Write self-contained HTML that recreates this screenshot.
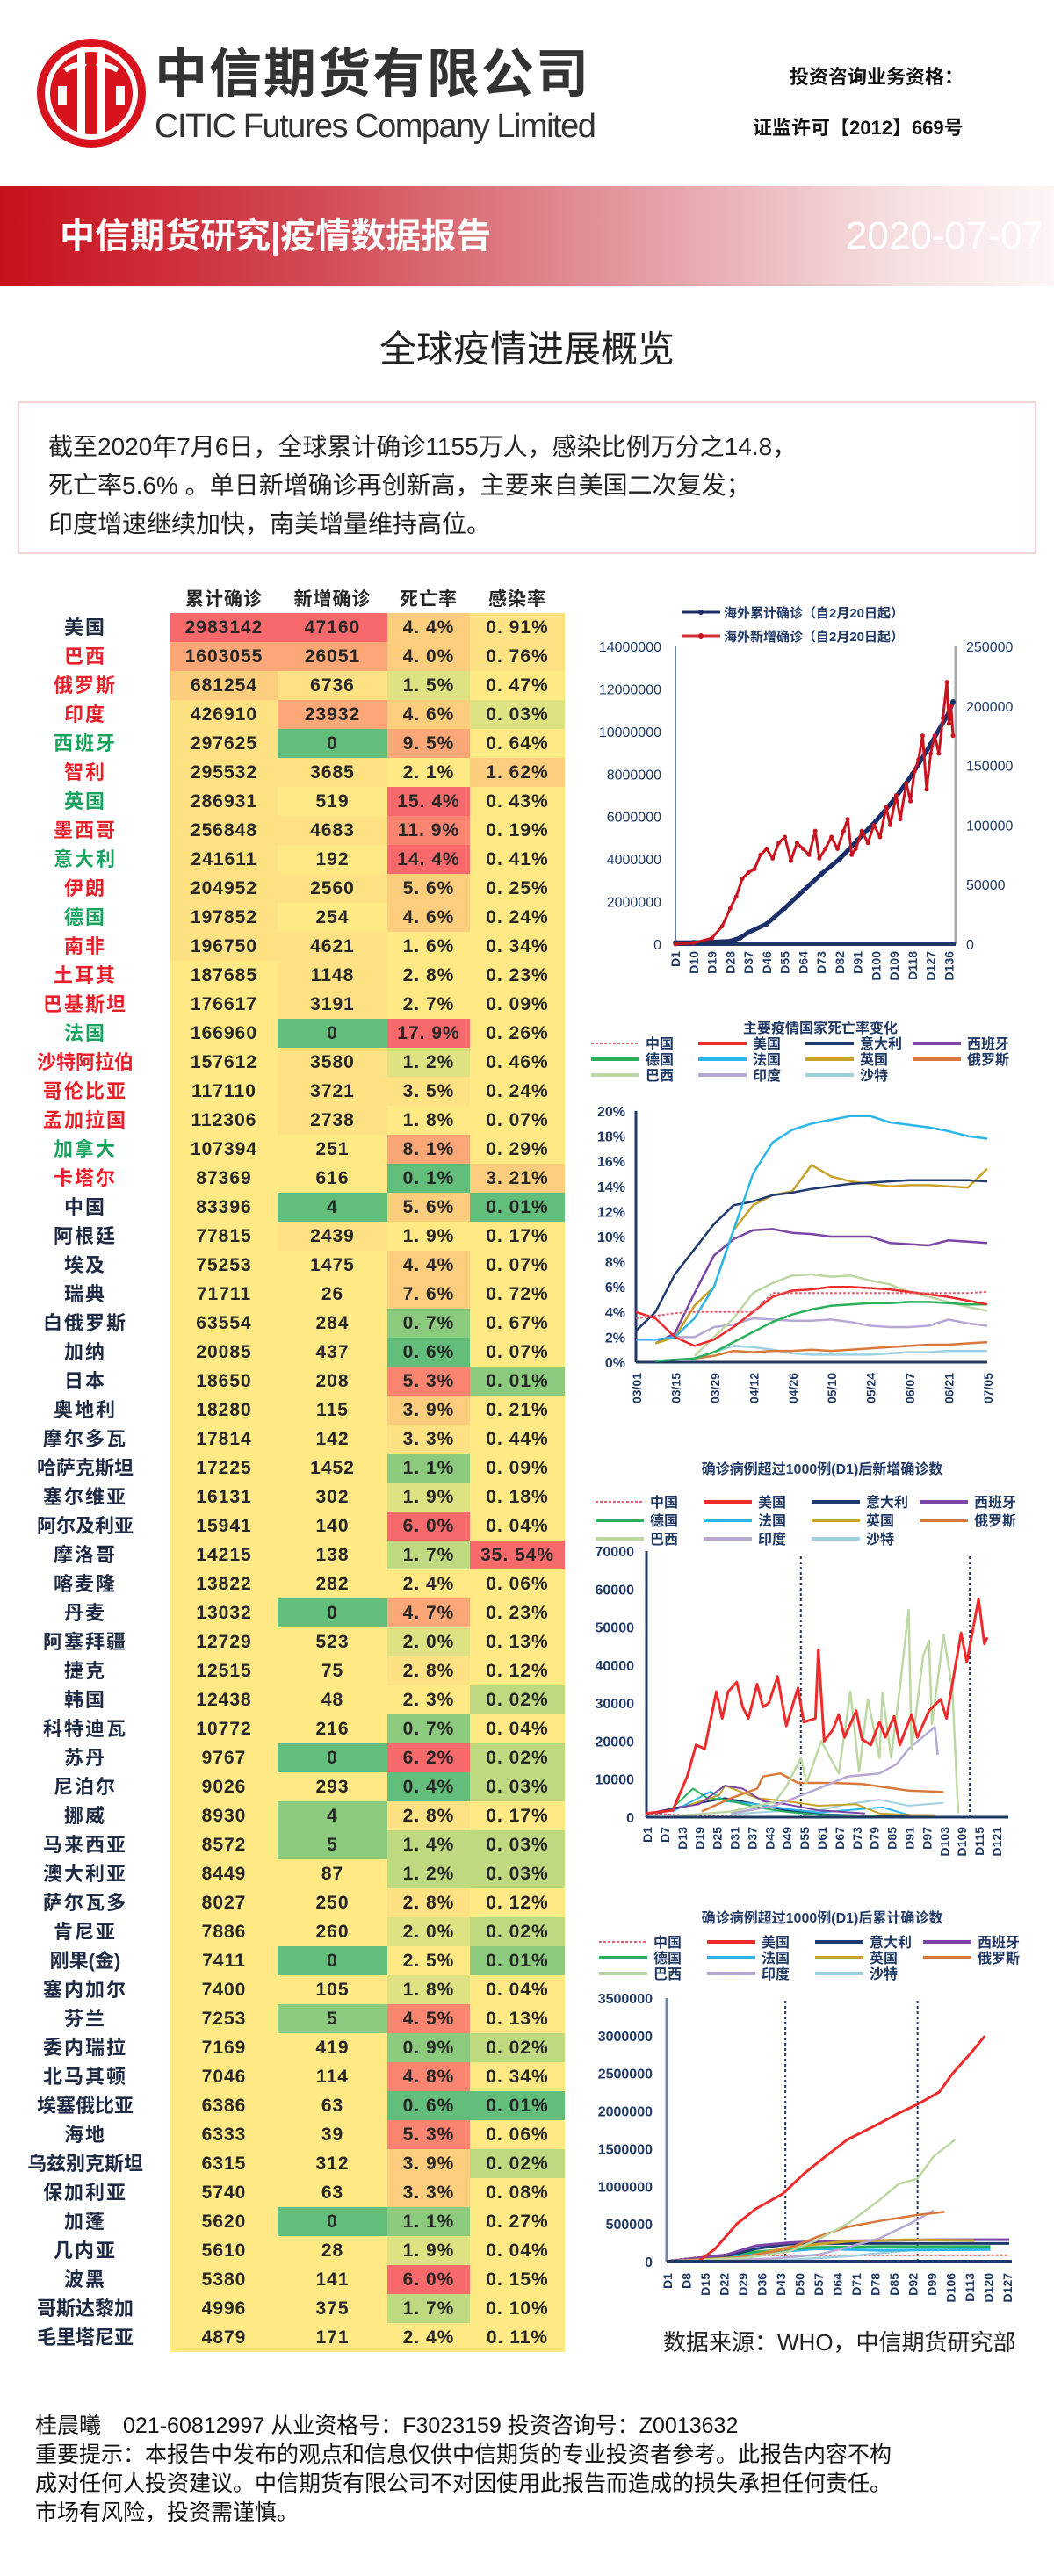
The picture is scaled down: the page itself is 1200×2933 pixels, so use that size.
<!DOCTYPE html>
<html><head><meta charset="utf-8">
<style>
*{margin:0;padding:0;box-sizing:border-box}
body{width:1200px;height:2933px;position:relative;background:#fff;font-family:"Liberation Sans","Noto Sans CJK SC",sans-serif;overflow:hidden}
.abs{position:absolute}
#banner{left:0;top:212px;width:1200px;height:114px;background:linear-gradient(90deg,#c8101c 0%,#d24a54 30%,#e39aa0 60%,#f6dfe1 85%,#fdf6f6 100%)}
#tbl{left:0;top:668px;width:650px}
.row{position:absolute;left:0;height:33px;width:643px}
.nm{position:absolute;left:0;width:194px;text-align:center;font-size:22px;font-weight:bold;line-height:33px;letter-spacing:2px}
.c{position:absolute;top:0;height:33px;line-height:33px;text-align:center;font-size:21px;font-weight:bold;color:#262626;font-family:"Liberation Sans","Noto Sans CJK SC",sans-serif;letter-spacing:1px}
.hd{position:absolute;top:0;height:30px;line-height:30px;text-align:center;font-size:21px;font-weight:bold;color:#262626;letter-spacing:1px}
svg text{font-family:"Liberation Sans","Noto Sans CJK SC",sans-serif}
</style></head>
<body>
<svg class="abs" style="left:38px;top:40px" width="134" height="134">
<circle cx="66" cy="66" r="62" fill="#d7141e"/>
<circle cx="66" cy="66" r="50" fill="none" stroke="#fff" stroke-width="6"/>
<rect x="50" y="20" width="9" height="94" fill="#fff"/><rect x="73" y="20" width="9" height="94" fill="#fff"/>
<path d="M36 40 Q52 30 59 36 M96 40 Q80 30 73 36" stroke="#fff" stroke-width="6" fill="none"/>
<rect x="28" y="58" width="10" height="22" fill="#fff"/><rect x="94" y="58" width="10" height="22" fill="#fff"/>
</svg>
<div class="abs" style="left:176px;top:50px;font-size:60px;font-weight:bold;color:#333;letter-spacing:2px;line-height:70px">中信期货有限公司</div>
<div class="abs" style="left:176px;top:122px;font-size:38px;color:#333;letter-spacing:-1.5px;line-height:44px">CITIC Futures Company Limited</div>
<div class="abs" style="left:899px;top:70px;font-size:22px;font-weight:bold;color:#111">投资咨询业务资格：</div>
<div class="abs" style="left:857px;top:128px;font-size:22px;font-weight:bold;color:#111">证监许可【2012】669号</div>
<div id="banner" class="abs">
<div class="abs" style="left:68px;top:32px;font-size:40px;font-weight:bold;color:#fff;line-height:50px">中信期货研究|疫情数据报告</div>
<div class="abs" style="right:12px;top:30px;font-size:44px;color:#fff;line-height:54px">2020-07-07</div>
</div>
<div class="abs" style="left:0;width:1200px;top:372px;text-align:center;font-size:42px;color:#222;line-height:52px">全球疫情进展概览</div>
<div class="abs" style="left:20px;top:457px;width:1160px;height:174px;border:2px solid #f0d4d4">
<div class="abs" style="left:33px;top:28px;font-size:28px;line-height:44px;color:#222;width:1110px">截至2020年7月6日，全球累计确诊1155万人，感染比例万分之14.8，<br>死亡率5.6% 。单日新增确诊再创新高，主要来自美国二次复发；<br>印度增速继续加快，南美增量维持高位。</div>
</div>

<div id="tbl" class="abs">
<div class="hd" style="left:194px;width:122px">累计确诊</div>
<div class="hd" style="left:316px;width:125px">新增确诊</div>
<div class="hd" style="left:441px;width:94px">死亡率</div>
<div class="hd" style="left:535px;width:108px">感染率</div>
</div>

<svg id="charts" class="abs" style="left:0;top:0" width="1200" height="2933"></svg>

<div class="abs" style="left:755px;top:2650px;font-size:26px;color:#222;line-height:34px">数据来源：WHO，中信期货研究部</div>
<div class="abs" style="left:40px;top:2746px;width:1150px;font-size:25px;color:#111;line-height:33px;white-space:nowrap">桂晨曦　021-60812997 从业资格号：F3023159 投资咨询号：Z0013632<br>重要提示：本报告中发布的观点和信息仅供中信期货的专业投资者参考。此报告内容不构<br>成对任何人投资建议。中信期货有限公司不对因使用此报告而造成的损失承担任何责任。<br>市场有风险，投资需谨慎。</div>

<script>
const countries=["美国","巴西","俄罗斯","印度","西班牙","智利","英国","墨西哥","意大利","伊朗","德国","南非","土耳其","巴基斯坦","法国","沙特阿拉伯","哥伦比亚","孟加拉国","加拿大","卡塔尔","中国","阿根廷","埃及","瑞典","白俄罗斯","加纳","日本","奥地利","摩尔多瓦","哈萨克斯坦","塞尔维亚","阿尔及利亚","摩洛哥","喀麦隆","丹麦","阿塞拜疆","捷克","韩国","科特迪瓦","苏丹","尼泊尔","挪威","马来西亚","澳大利亚","萨尔瓦多","肯尼亚","刚果(金)","塞内加尔","芬兰","委内瑞拉","北马其顿","埃塞俄比亚","海地","乌兹别克斯坦","保加利亚","加蓬","几内亚","波黑","哥斯达黎加","毛里塔尼亚"];
const cumulative=[2983142,1603055,681254,426910,297625,295532,286931,256848,241611,204952,197852,196750,187685,176617,166960,157612,117110,112306,107394,87369,83396,77815,75253,71711,63554,20085,18650,18280,17814,17225,16131,15941,14215,13822,13032,12729,12515,12438,10772,9767,9026,8930,8572,8449,8027,7886,7411,7400,7253,7169,7046,6386,6333,6315,5740,5620,5610,5380,4996,4879];
const newCases=[47160,26051,6736,23932,0,3685,519,4683,192,2560,254,4621,1148,3191,0,3580,3721,2738,251,616,4,2439,1475,26,284,437,208,115,142,1452,302,140,138,282,0,523,75,48,216,0,293,4,5,87,250,260,0,105,5,419,114,63,39,312,63,0,28,141,375,171];
const deathRate=["4.4","4.0","1.5","4.6","9.5","2.1","15.4","11.9","14.4","5.6","4.6","1.6","2.8","2.7","17.9","1.2","3.5","1.8","8.1","0.1","5.6","1.9","4.4","7.6","0.7","0.6","5.3","3.9","3.3","1.1","1.9","6.0","1.7","2.4","4.7","2.0","2.8","2.3","0.7","6.2","0.4","2.8","1.4","1.2","2.8","2.0","2.5","1.8","4.5","0.9","4.8","0.6","5.3","3.9","3.3","1.1","1.9","6.0","1.7","2.4"];
const infectRate=["0.91","0.76","0.47","0.03","0.64","1.62","0.43","0.19","0.41","0.25","0.24","0.34","0.23","0.09","0.26","0.46","0.24","0.07","0.29","3.21","0.01","0.17","0.07","0.72","0.67","0.07","0.01","0.21","0.44","0.09","0.18","0.04","35.54","0.06","0.23","0.13","0.12","0.02","0.04","0.02","0.03","0.17","0.03","0.03","0.12","0.02","0.01","0.04","0.13","0.02","0.34","0.01","0.06","0.02","0.08","0.27","0.04","0.15","0.10","0.11"];
const nameColor="nrrrgrgrgrgrrrgrrrgrnnnnnnnnnnnnnnnnnnnnnnnnnnnnnnnnnnnnnnnn";
const cellColor=["RRLP","OOLP","LPAY","POLA","PDOY","PPYL","PYRY","PPSY","PYRY","PPLY","PYLY","PPYY","YPYY","YPYY","YDRY","YPAY","YPPY","YPYY","YYOY","YYDL","YDLD","YPYY","YYLY","YYLY","YYGY","YYDY","YYSG","YYLY","YYPY","YYGY","YYAY","YYRY","YYBR","YYYY","YDOY","YYAY","YYPY","YYYB","YYGY","YDRB","YYDB","YGPY","YGBB","YYBB","YYPY","YYAB","YDYG","YYAY","YGSY","YYGB","YYSY","YYDD","YYSY","YYLB","YYLY","YDGY","YYAY","YYRY","YYBY","YYYY"];
const pal={R:"#f8696b",S:"#f98570",O:"#fba777",L:"#fdcd7e",P:"#fee182",Y:"#ffe984",A:"#dfe283",B:"#bfd980",G:"#8ccb7e",D:"#63be7b"};
const nc={r:"#e8202a",g:"#17a35e",n:"#1f2a44"};
const tbl=document.getElementById('tbl');
const colL=[194,316,441,535],colW=[122,125,94,108];
countries.forEach((c,i)=>{
  const row=document.createElement('div');row.className='row';row.style.top=(30+i*33)+'px';
  
  
  const n=document.createElement('div');n.className='nm';n.textContent=c;n.style.color=nc[nameColor[i]];
  if(c.length>=5)n.style.letterSpacing='0px';
  
  
  row.appendChild(n);
  const vals=[String(cumulative[i]),String(newCases[i]),deathRate[i].replace('.','. ')+'%',infectRate[i].replace('.','. ')+'%'];
  vals.forEach((v,k)=>{
    const d=document.createElement('div');d.className='c';d.textContent=v;
    d.style.left=colL[k]+'px';d.style.width=colW[k]+'px';d.style.background=pal[cellColor[i][k]];
    
    
    row.appendChild(d);
  });
  tbl.appendChild(row);
});

const c1CumDays=[1,10,19,28,33,37,46,55,64,73,82,91,100,109,118,127,136,138];
const c1Cum=[0.07,0.08,0.1,0.14,0.3,0.55,0.95,1.7,2.5,3.3,4.0,4.9,5.8,6.8,8.0,9.4,10.9,11.4];
const c1NewDays=[1,10,19,24,28,31,34,37,40,43,46,49,52,55,58,61,64,67,70,72,75,78,81,84,86,88,90,93,96,99,102,105,107,110,112,115,117,119,121,123,125,127,129,131,133,135,136,137,138];
const c1New=[0,1000,5000,15000,30000,40000,55000,60000,63000,75000,80000,72000,85000,90000,70000,85000,80000,75000,95000,72000,80000,90000,80000,95000,105000,75000,80000,95000,85000,100000,90000,115000,100000,125000,105000,135000,120000,145000,155000,175000,130000,160000,175000,160000,190000,220000,185000,200000,175000];
const c1XTicks=["D1","D10","D19","D28","D37","D46","D55","D64","D73","D82","D91","D100","D109","D118","D127","D136"];
const c1LeftTicks=[0,2000000,4000000,6000000,8000000,10000000,12000000,14000000];
const c1RightTicks=[0,50000,100000,150000,200000,250000];
const c2Labels=["03/01","03/15","03/29","04/12","04/26","05/10","05/24","06/07","06/21","07/05"];
const c2Days=[0,7,14,21,28,35,42,49,56,63,70,77,84,91,98,105,112,119,126];
const c2China=[3.5,3.7,3.9,4.0,4.0,4.0,4.0,5.5,5.5,5.5,5.5,5.5,5.5,5.5,5.5,5.5,5.5,5.5,5.6];
const c2US=[4.0,3.5,2.0,1.3,1.8,2.8,4.0,5.2,5.7,5.8,6.0,6.0,5.9,5.8,5.6,5.4,5.2,4.9,4.6];
const c2Italy=[2.5,4.0,7.0,9.0,11.0,12.5,12.8,13.3,13.5,13.8,14.0,14.2,14.3,14.4,14.5,14.5,14.5,14.5,14.4];
const c2Spain=[null,1.5,2.3,5.5,8.5,9.8,10.5,10.6,10.3,10.2,10.0,10.0,10.0,9.5,9.4,9.3,9.7,9.6,9.5];
const c2Germany=[null,0.1,0.2,0.3,0.8,1.6,2.4,3.2,3.8,4.2,4.5,4.6,4.7,4.7,4.8,4.8,4.7,4.6,4.6];
const c2France=[1.8,1.8,2.0,3.5,6.0,10.5,15.0,17.5,18.5,19.0,19.3,19.6,19.6,19.1,18.9,18.7,18.4,18.0,17.8];
const c2UK=[null,1.5,2.0,4.5,6.0,10.5,12.5,13.3,13.6,15.7,14.8,14.4,14.2,14.0,14.1,14.1,14.0,13.9,15.4];
const c2Russia=[null,null,null,0.3,0.5,0.9,0.8,0.9,0.9,1.0,0.9,1.0,1.1,1.2,1.3,1.4,1.4,1.5,1.6];
const c2Brazil=[null,null,null,0.5,2.0,3.5,5.5,6.3,6.9,7.0,6.8,6.9,6.5,6.2,5.6,5.2,4.8,4.4,4.1];
const c2India=[null,null,2.0,2.0,2.8,3.0,3.5,3.4,3.3,3.3,3.4,3.2,2.9,2.8,2.8,2.9,3.4,3.1,2.9];
const c2Saudi=[null,null,null,0.3,0.8,1.3,1.2,1.0,0.7,0.6,0.6,0.6,0.6,0.7,0.8,0.8,0.9,0.9,0.9];
const c2YTicks=[0,2,4,6,8,10,12,14,16,18,20];
const c3XTicks=["D1","D7","D13","D19","D25","D31","D37","D43","D49","D55","D61","D67","D73","D79","D85","D91","D97","D103","D109","D115","D121"];
const c3YTicks=[0,10000,20000,30000,40000,50000,60000,70000];
const c3Markers=[54,112];
const c3USd=[1,10,15,18,21,25,27,29,32,34,36,39,41,43,46,49,53,55,59,60,62,65,67,69,73,75,78,81,83,86,88,92,94,98,102,104,109,111,115,117,118];
const c3US=[1000,1800,10700,19000,18000,33000,26000,33000,35500,29000,26000,35000,29000,30000,37000,24000,34000,25000,26000,44000,20000,23000,27000,21000,28000,20500,19000,25000,21000,26500,19000,27000,21000,28000,31000,26000,48500,40800,57400,45600,47300];
const c3BRd=[10,30,45,49,54,56,61,67,71,74,77,81,82,85,88,91,92,96,98,99,103,106,108];
const c3BR=[200,1500,4000,8000,15600,9000,20000,11500,33000,12000,31000,15600,32700,15600,34000,54600,18000,42400,46500,24500,48000,33500,1000];
const c3RUd=[20,30,39,41,47,53,65,75,91,103];
const c3RU=[1500,5000,7500,10700,11500,9000,9000,8700,7000,6600];
const c3INd=[30,45,60,70,81,87,91,100,101];
const c3IN=[1000,3000,7500,10700,11500,14000,18000,23700,16400];
const c3ESd=[5,12,19,28,34,41,49,60,68,76];
const c3ES=[1000,2500,3400,8300,7500,4200,3400,1800,1400,1000];
const c3SAd=[30,45,60,70,81,91,103];
const c3SA=[800,1500,1800,3400,4600,3000,3800];
const c3ITd=[5,17,28,39,49,60,81,100];
const c3IT=[1500,3400,5000,3400,1800,800,300,200];
const c3DEd=[10,17,22,28,39,49,60,80];
const c3DE=[2500,7500,5000,4600,2600,1400,600,400];
const c3FRd=[10,23,28,39,49,60,82,91,100];
const c3FR=[1500,6700,4200,3400,2200,1200,2600,600,500];
const c3UKd=[15,26,28,39,49,60,73,81,91,100];
const c3UK=[3000,5800,8300,5000,4200,3000,3400,1000,600,500];
const c3CNd=[1,20,40,60,80,100,124];
const c3CN=[1000,300,100,50,30,20,10];
const c4XTicks=["D1","D8","D15","D22","D29","D36","D43","D50","D57","D64","D71","D78","D85","D92","D99","D106","D113","D120","D127"];
const c4YTicks=[0,500000,1000000,1500000,2000000,2500000,3000000,3500000];
const c4Markers=[45,94];
const c4USd=[1,13,19,27,34,44,52,60,68,78,87,94,102,107,114,119];
const c4US=[0.001,0.01,0.17,0.5,0.7,0.9,1.17,1.4,1.62,1.8,1.97,2.09,2.25,2.5,2.78,3.0];
const c4BRd=[1,30,46,57,68,80,87,94,100,108];
const c4BR=[0.001,0.05,0.13,0.29,0.5,0.82,1.03,1.1,1.4,1.62];
const c4RUd=[1,20,34,46,57,68,80,94,104];
const c4RU=[0.001,0.02,0.09,0.17,0.33,0.46,0.54,0.62,0.66];
const c4INd=[1,40,57,68,80,91,100];
const c4IN=[0.001,0.04,0.09,0.19,0.31,0.5,0.68];
const c4ESd=[1,23,34,46,57,80,100,128];
const c4ES=[0.001,0.09,0.21,0.25,0.27,0.28,0.29,0.29];
const c4ITd=[1,23,34,46,68,100,128];
const c4IT=[0.002,0.07,0.17,0.23,0.24,0.24,0.24];
const c4UKd=[1,30,46,68,91,115];
const c4UK=[0.001,0.06,0.19,0.27,0.29,0.28];
const c4DEd=[1,34,57,80,121];
const c4DE=[0.001,0.13,0.19,0.2,0.2];
const c4FRd=[1,34,57,80,121];
const c4FR=[0.001,0.11,0.17,0.15,0.16];
const c4SAd=[1,45,68,91,103];
const c4SA=[0.001,0.02,0.07,0.15,0.19];
const c4CNd=[1,10,20,60,128];
const c4CN=[0.01,0.05,0.08,0.083,0.084];

const NS="http://www.w3.org/2000/svg";
const svg=document.getElementById('charts');
const NAVY="#1f3864";
function el(tag,attrs,parent){const e=document.createElementNS(NS,tag);for(const k in attrs)e.setAttribute(k,attrs[k]);(parent||svg).appendChild(e);return e;}
function lin(d0,d1,r0,r1){return v=>r0+(v-d0)/(d1-d0)*(r1-r0);}
function series(xs,ys,fx,fy,color,w,dash,name){
  let d="",pen=false;
  xs.forEach((x,i)=>{const y=ys[i];if(y===null){pen=false;return;}d+=(pen?"L":"M")+fx(x).toFixed(1)+" "+fy(y).toFixed(1)+" ";pen=true;});
  const p=el('path',{d:d,fill:"none",stroke:color,"stroke-width":w,"stroke-linejoin":"round"});
  if(dash)p.setAttribute('stroke-dasharray',dash);
  
  
  return p;
}
function txt(x,y,s,size,color,anchor,weight,rot){
  const t=el('text',{x:x,y:y,"font-size":size,fill:color,"text-anchor":anchor||"start","font-weight":weight||"normal"});
  if(rot)t.setAttribute('transform','rotate(-90 '+x+' '+y+')');
  t.textContent=s;return t;
}
const legendItems=[["中国","#e06070","3 2"],["美国","#ee2a2a",null],["意大利","#1f3a6e",null],["西班牙","#7b45a8",null],["德国","#2bb05a",null],["法国","#2ab6ea",null],["英国","#c9a22a",null],["俄罗斯","#d8783a",null],["巴西","#bcd7a2",null],["印度","#b6a8d2",null],["沙特","#9fd0e0",null]];
function legend(x0,y0,colW,rowH){
  legendItems.forEach((it,i)=>{
    const x=x0+(i%4)*colW,y=y0+Math.floor(i/4)*rowH;
    const l=el('line',{x1:x,y1:y,x2:x+55,y2:y,stroke:it[1],"stroke-width":it[2]?2:4});
    if(it[2])l.setAttribute('stroke-dasharray',it[2]);
    
    
    const t=txt(x+62,y+6,it[0],16,NAVY,"start","bold");
    
    
  });
}

{
  const fx=lin(1,138,769,1085),fyL=lin(0,14000000,1075,736),fyR=lin(0,250000,1075,736);
  el('line',{x1:769,y1:736,x2:769,y2:1075,stroke:"#6f84a6","stroke-width":2});
  el('line',{x1:1088,y1:736,x2:1088,y2:1075,stroke:"#aaa","stroke-width":3});
  el('line',{x1:769,y1:1075,x2:1088,y2:1075,stroke:NAVY,"stroke-width":4});
  c1LeftTicks.forEach(v=>{const t=txt(753,fyL(v)+6,String(v),16,NAVY,"end");});
  c1RightTicks.forEach(v=>{const t=txt(1100,fyR(v)+6,String(v),16,NAVY,"start");});
  c1XTicks.forEach(s=>{const d=+s.slice(1);const t=txt(fx(d)+5,1083,s,14,NAVY,"end","bold",true);});
  series(c1CumDays,c1Cum.map(v=>v*1e6),fx,fyL,"#1a2f6a",5,null,"cumulative-line");
  c1CumDays.forEach((d,i)=>{const c=el('circle',{cx:fx(d),cy:fyL(c1Cum[i]*1e6),r:3,fill:"#1a2f6a"});});
  series(c1NewDays,c1New,fx,fyR,"#c8141e",3,null,"new-cases-line");
  c1NewDays.forEach((d,i)=>{const c=el('circle',{cx:fx(d),cy:fyR(c1New[i]),r:2.5,fill:"#c8141e"});});
  el('line',{x1:776,y1:697,x2:820,y2:697,stroke:"#1a2f6a","stroke-width":3});
  el('circle',{cx:798,cy:697,r:3,fill:"#1a2f6a"});
  txt(824,703,"海外累计确诊（自2月20日起）",15,NAVY,"start","bold");
  el('line',{x1:776,y1:724,x2:820,y2:724,stroke:"#d03030","stroke-width":3});
  el('circle',{cx:798,cy:724,r:3,fill:"#c8141e"});
  txt(824,730,"海外新增确诊（自2月20日起）",15,NAVY,"start","bold");
}
{
  const fx=lin(0,126,724,1124),fy=lin(0,20,1551,1265);
  txt(934,1176,"主要疫情国家死亡率变化",16,NAVY,"middle","bold");
  legend(673,1188,122,18);
  el('line',{x1:724,y1:1265,x2:724,y2:1551,stroke:NAVY,"stroke-width":3});
  el('line',{x1:724,y1:1551,x2:1124,y2:1551,stroke:NAVY,"stroke-width":3});
  c2YTicks.forEach(v=>{const t=txt(712,fy(v)+6,v+"%",16,NAVY,"end","bold");});
  c2Labels.forEach((s,i)=>{const t=txt(fx(i*14)+6,1563,s,14,NAVY,"end","bold",true);});
  const S=[[c2Saudi,10],[c2India,9],[c2Brazil,8],[c2Russia,7],[c2Germany,4],[c2Spain,3],[c2UK,6],[c2Italy,2],[c2France,5],[c2US,1],[c2China,0]];
  S.forEach(([arr,k])=>series(c2Days,arr,fx,fy,legendItems[k][1],legendItems[k][2]?2:2.5,legendItems[k][2],"death-rate-"+k));
}
{
  const fx=lin(1,121,736,1134),fy=lin(0,70000,2069,1766);
  txt(936,1678,"确诊病例超过1000例(D1)后新增确诊数",16,NAVY,"middle","bold");
  legend(678,1710,123,21);
  el('line',{x1:736,y1:1766,x2:736,y2:2069,stroke:NAVY,"stroke-width":3});
  c3YTicks.forEach(v=>{const t=txt(722,fy(v)+6,String(v),16,NAVY,"end","bold");});
  c3XTicks.forEach(s=>{const d=+s.slice(1);const t=txt(fx(d)+6,2080,s,14,NAVY,"end","bold",true);});
  c3Markers.forEach(d=>{const l=el('line',{x1:fx(d),y1:1772,x2:fx(d),y2:2069,stroke:NAVY,"stroke-width":2,"stroke-dasharray":"3 3"});});
  series(c3CNd,c3CN,fx,fy,legendItems[0][1],2,"3 2","new-china");
  series(c3SAd,c3SA,fx,fy,legendItems[10][1],2,null,"new-saudi");
  series(c3ITd,c3IT,fx,fy,legendItems[2][1],2,null,"new-italy");
  series(c3FRd,c3FR,fx,fy,legendItems[5][1],2,null,"new-france");
  series(c3DEd,c3DE,fx,fy,legendItems[4][1],2,null,"new-germany");
  series(c3UKd,c3UK,fx,fy,legendItems[6][1],2,null,"new-uk");
  series(c3ESd,c3ES,fx,fy,legendItems[3][1],2,null,"new-spain");
  series(c3RUd,c3RU,fx,fy,legendItems[7][1],2.5,null,"new-russia");
  series(c3INd,c3IN,fx,fy,legendItems[9][1],2.5,null,"new-india");
  series(c3BRd,c3BR,fx,fy,legendItems[8][1],2.5,null,"new-brazil");
  series(c3USd,c3US,fx,fy,legendItems[1][1],3,null,"new-us");
  el('line',{x1:736,y1:2069,x2:1148,y2:2069,stroke:NAVY,"stroke-width":3});
}
{
  const fx=lin(1,127,759,1146),fy=lin(0,3500000,2575,2275);
  txt(936,2189,"确诊病例超过1000例(D1)后累计确诊数",16,NAVY,"middle","bold");
  legend(682,2211,123,18);
  el('line',{x1:759,y1:2275,x2:759,y2:2575,stroke:"#6f84a6","stroke-width":3});
  c4YTicks.forEach(v=>{const t=txt(743,fy(v)+6,String(v),16,NAVY,"end","bold");});
  c4XTicks.forEach(s=>{const d=+s.slice(1);const t=txt(fx(d)+6,2588,s,14,NAVY,"end","bold",true);});
  c4Markers.forEach(d=>{const l=el('line',{x1:fx(d),y1:2278,x2:fx(d),y2:2575,stroke:NAVY,"stroke-width":2,"stroke-dasharray":"3 3"});});
  const M=a=>a.map(v=>v*1e6);
  series(c4CNd,M(c4CN),fx,fy,legendItems[0][1],2,"3 2","cum-china");
  series(c4SAd,M(c4SA),fx,fy,legendItems[10][1],2.5,null,"cum-saudi");
  series(c4FRd,M(c4FR),fx,fy,legendItems[5][1],3,null,"cum-france");
  series(c4DEd,M(c4DE),fx,fy,legendItems[4][1],3,null,"cum-germany");
  series(c4ITd,M(c4IT),fx,fy,legendItems[2][1],3,null,"cum-italy");
  series(c4ESd,M(c4ES),fx,fy,legendItems[3][1],3,null,"cum-spain");
  series(c4UKd,M(c4UK),fx,fy,legendItems[6][1],3,null,"cum-uk");
  series(c4INd,M(c4IN),fx,fy,legendItems[9][1],2.5,null,"cum-india");
  series(c4RUd,M(c4RU),fx,fy,legendItems[7][1],2.5,null,"cum-russia");
  series(c4BRd,M(c4BR),fx,fy,legendItems[8][1],2.5,null,"cum-brazil");
  series(c4USd,M(c4US),fx,fy,legendItems[1][1],3,null,"cum-us");
  el('line',{x1:759,y1:2575,x2:1152,y2:2575,stroke:NAVY,"stroke-width":4});
}
</script>
</body></html>
